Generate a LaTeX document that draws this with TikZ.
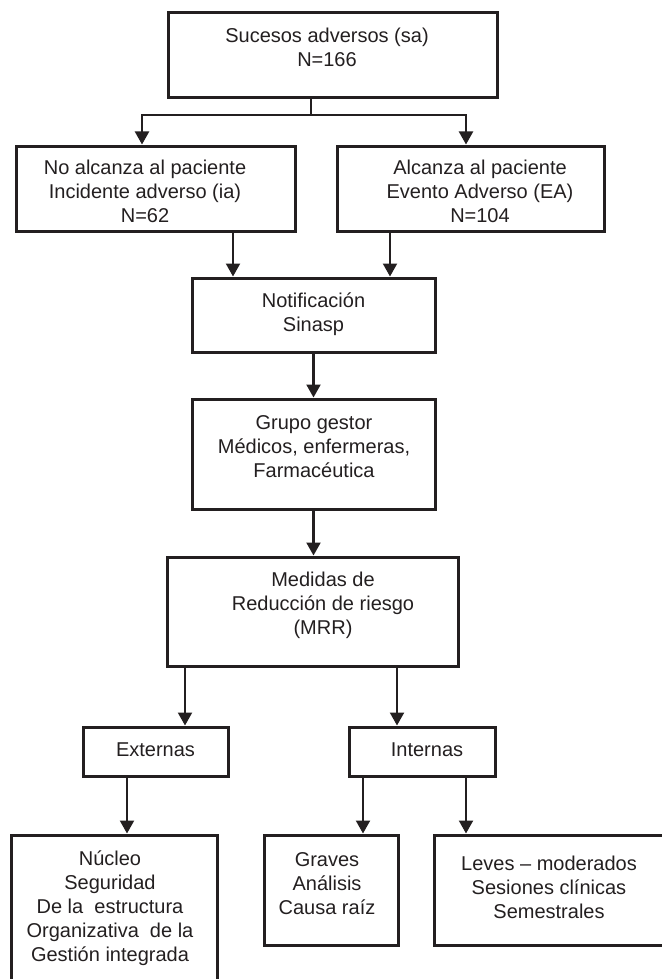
\documentclass[tikz,border=0pt]{standalone}
\usepackage{fontspec}
\setmainfont{Liberation Sans}
\usetikzlibrary{arrows.meta, calc}
\definecolor{mainBlack}{HTML}{231F20}

\begin{document}
\begin{tikzpicture}[x=0.5pt, y=-0.5pt, >={Triangle[width=7pt, length=6.5pt]},
    box/.style={draw=mainBlack, line width=1.5pt, inner sep=0pt},
    txt/.style={align=center, inner sep=0pt, text=mainBlack, font=\fontsize{10}{12}\selectfont},
    wire/.style={draw=mainBlack, line width=1.1pt},
    link/.style={wire, ->}]
    \useasboundingbox (0,0) rectangle (662,979);
    \clip (0,0) rectangle (662,979);

    % Boxes
    \node[box, minimum width=164.5pt, minimum height=42.5pt] (sa) at (332.5,55.5) {};
    \node[box, minimum width=139.5pt, minimum height=42.5pt] (ia) at (155.5,188.5) {};
    \node[box, minimum width=133.5pt, minimum height=42.5pt] (ea) at (470.5,188.5) {};
    \node[box, minimum width=121.5pt, minimum height=37pt] (notif) at (313.5,315) {};
    \node[box, minimum width=121.5pt, minimum height=55pt] (gestor) at (313.5,454) {};
    \node[box, minimum width=145.5pt, minimum height=54.5pt] (mrr) at (312.5,611.5) {};
    \node[box, minimum width=72.5pt, minimum height=24.5pt] (ext) at (155.5,751.5) {};
    \node[box, minimum width=73pt, minimum height=24.5pt] (int) at (422,751.5) {};
    \node[box, minimum width=103pt, minimum height=82.5pt] (nucleo) at (114,917.5) {};
    \node[box, minimum width=67pt, minimum height=55pt] (graves) at (331,890) {};
    \node[box, minimum width=117pt, minimum height=55pt] (leves) at (551,890) {};

    % Texts
    \node[txt] (sa-t) at (327,47) {Sucesos adversos (sa)\\N=166};
    \node[txt] (ia-t) at (145,191) {No alcanza al paciente\\Incidente adverso (ia)\\N=62};
    \node[txt] (ea-t) at (480,191) {Alcanza al paciente\\Evento Adverso (EA)\\N=104};
    \node[txt] (notif-t) at (313.5,314) {Notificación\\Sinasp};
    \node[txt] (gestor-t) at (314,447) {Grupo gestor\\Médicos, enfermeras,\\Farmacéutica};
    \node[txt] (mrr-t) at (323,605) {Medidas de\\Reducción de riesgo\\(MRR)};
    \node[txt] (ext-t) at (155.5,750) {Externas};
    \node[txt] (int-t) at (427,750) {Internas};
    \node[txt] (nucleo-t) at (110,908) {Núcleo\\Seguridad\\De la~ estructura\\Organizativa~ de la\\Gestión integrada};
    \node[txt] (graves-t) at (327,884) {Graves\\Análisis\\Causa raíz};
    \node[txt] (leves-t) at (549,887) {Leves -- moderados\\Sesiones clínicas\\Semestrales};

    % Split below the first box
    \coordinate (split) at (311,115);
    \coordinate (splitL) at (142,115);
    \coordinate (splitR) at (466,115);
    \draw[wire] (split |- sa.south) -- (split);
    \draw[link] (split) -| (splitL |- ia.north);
    \draw[link] (split) -| (splitR |- ea.north);

    % Down to the notification
    \coordinate (iaOut) at (233,0);
    \coordinate (eaOut) at (390,0);
    \draw[link] (iaOut |- ia.south) -- (iaOut |- notif.north);
    \draw[link] (eaOut |- ea.south) -- (eaOut |- notif.north);
    \draw[link] (notif.south) -- (notif.south |- gestor.north);
    \draw[link] (gestor.south) -- (gestor.south |- mrr.north);

    % Measures
    \coordinate (mrrL) at (185,0);
    \coordinate (mrrR) at (397,0);
    \draw[link] (mrrL |- mrr.south) -- (mrrL |- ext.north);
    \draw[link] (mrrR |- mrr.south) -- (mrrR |- int.north);

    \coordinate (extOut) at (127,0);
    \coordinate (intL) at (363,0);
    \coordinate (intR) at (466,0);
    \draw[link] (extOut |- ext.south) -- (extOut |- nucleo.north);
    \draw[link] (intL |- int.south) -- (intL |- graves.north);
    \draw[link] (intR |- int.south) -- (intR |- leves.north);
\end{tikzpicture}
\end{document}
